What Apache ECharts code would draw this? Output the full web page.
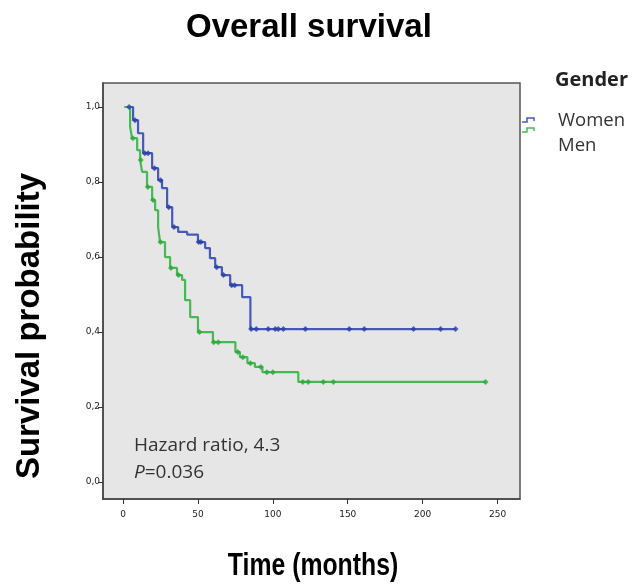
<!DOCTYPE html>
<html>
<head>
<meta charset="utf-8">
<script src="https://cdn.jsdelivr.net/npm/echarts@6/dist/echarts.min.js"></script>
<style>
  html, body { margin: 0; padding: 0; background: #fff; }
  #chart { width: 637px; height: 585px; }
</style>
</head>
<body>
<div id="chart"></div>
<script>
// Kaplan-Meier step values (months, survival)
const womenTime = [1, 6.7, 10, 13.4, 19.4, 23.4, 26, 29.4, 32.8, 36.8, 42.8, 50, 54.8, 58, 61.5, 66, 71.5, 79.5, 85, 222]
const womenSurv = [1.0, 0.965, 0.93, 0.877, 0.837, 0.805, 0.784, 0.733, 0.68, 0.667, 0.66, 0.64, 0.624, 0.597, 0.573, 0.552, 0.525, 0.493, 0.408, 0.408]
const womenCensor = [
  [4, 1.0], [8, 0.965], [14.5, 0.877], [16.7, 0.877], [21, 0.837], [25, 0.805], [30.5, 0.733],
  [34, 0.68], [50.5, 0.64], [52, 0.64], [62.5, 0.573], [67, 0.552], [72.5, 0.525], [74.5, 0.525],
  [85.5, 0.408], [88.9, 0.408], [96.9, 0.408], [101.6, 0.408], [103.6, 0.408], [107, 0.408],
  [121.7, 0.408], [151, 0.408], [161, 0.408], [193.9, 0.408], [212, 0.408], [222, 0.408],
]

const menTime = [1, 4.7, 6, 9.4, 11.4, 12.7, 16, 19.4, 21.4, 23.4, 24.7, 28, 31.4, 36, 39.4, 41.4, 44.8, 50, 60, 75, 78, 83, 88, 93, 117, 242]
const menSurv = [1.0, 0.947, 0.917, 0.885, 0.859, 0.827, 0.787, 0.752, 0.725, 0.68, 0.64, 0.6, 0.571, 0.552, 0.539, 0.485, 0.44, 0.40, 0.373, 0.347, 0.333, 0.317, 0.307, 0.293, 0.267, 0.267]
const menCensor = [
  [6.5, 0.917], [11.8, 0.859], [16.5, 0.787], [20, 0.752], [25, 0.64], [32, 0.571], [37, 0.552],
  [51, 0.40], [60.5, 0.373], [63.5, 0.373], [76.5, 0.347], [80, 0.333], [85, 0.317], [92, 0.307],
  [96, 0.293], [100, 0.293], [120, 0.267], [123.6, 0.267], [133.7, 0.267], [140.4, 0.267], [242, 0.267],
]

const xTicks = [0, 50, 100, 150, 200, 250]
const yTicks = [0, 0.2, 0.4, 0.6, 0.8, 1.0]

const blue = '#4759b8'
const green = '#47b954'

function pairs(t, s) {
  return t.map((v, i) => [v, s[i]])
}

const chart = echarts.init(document.getElementById('chart'))

const option = {
  backgroundColor: '#fff',
  animation: false,
  title: {
    text: 'Overall survival',
    left: 181,
    top: 6,
    textStyle: { fontFamily: 'Liberation Sans', fontWeight: 'bold', fontSize: 33, color: '#000' },
  },
  grid: {
    left: 103,
    right: 117,
    top: 83,
    bottom: 86,
    show: true,
    backgroundColor: '#e6e6e6',
    borderColor: '#555',
    borderWidth: 1.5,
  },
  xAxis: {
    type: 'value',
    min: -13.4,
    max: 265,
    splitLine: { show: false },
    axisLine: { show: true, onZero: false, lineStyle: { color: '#444', width: 1.5 } },
    axisTick: { show: true, length: 5, customValues: xTicks, lineStyle: { color: '#333' } },
    axisLabel: { customValues: xTicks, fontSize: 9, color: '#222', margin: 11, fontFamily: 'DejaVu Sans' },
  },
  yAxis: {
    type: 'value',
    min: -0.045,
    max: 1.064,
    name: 'Survival probability',
    nameLocation: 'middle',
    nameRotate: 90,
    nameGap: 57,
    nameTextStyle: {
      fontFamily: 'Liberation Sans', fontWeight: 'bold', fontSize: 33, color: '#000',
      padding: [0, 70, 0, 0],
    },
    splitLine: { show: false },
    axisLine: { show: true, onZero: false, lineStyle: { color: '#444', width: 1.5 } },
    axisTick: { show: true, length: 5, customValues: yTicks, lineStyle: { color: '#333' } },
    axisLabel: {
      customValues: yTicks,
      fontSize: 9,
      color: '#222',
      margin: 3,
      fontFamily: 'DejaVu Sans',
      formatter: v => v.toFixed(1).replace('.', ','),
    },
  },
  series: [
    {
      name: 'Women',
      type: 'line',
      step: 'end',
      showSymbol: false,
      lineStyle: { color: blue, width: 2.2 },
      data: pairs(womenTime, womenSurv),
      z: 3,
    },
    {
      name: 'Men',
      type: 'line',
      step: 'end',
      showSymbol: false,
      lineStyle: { color: green, width: 2.2 },
      data: pairs(menTime, menSurv),
      z: 3,
    },
    {
      name: 'Women censored',
      type: 'scatter',
      symbol: 'diamond',
      symbolSize: 6,
      itemStyle: { color: '#2a3fa6' },
      data: womenCensor,
      z: 4,
    },
    {
      name: 'Men censored',
      type: 'scatter',
      symbol: 'diamond',
      symbolSize: 6,
      itemStyle: { color: '#2aa83a' },
      data: menCensor,
      z: 4,
    },
  ],
  graphic: [
    {
      // x axis title, a little condensed as in the original
      type: 'text',
      x: 313,
      y: 566,
      scaleX: 0.8,
      style: {
        text: 'Time (months)',
        font: 'bold 31px "Liberation Sans"',
        fill: '#000',
        align: 'center',
        verticalAlign: 'middle',
      },
    },
    {
      type: 'text',
      left: 134,
      top: 436,
      style: {
        text: 'Hazard ratio, 4.3',
        font: '19px "Open Sans"',
        fill: '#333',
      },
    },
    {
      type: 'text',
      left: 134,
      top: 463,
      style: {
        text: '{i|P}=0.036',
        font: '19px "Open Sans"',
        fill: '#333',
        rich: { i: { fontStyle: 'italic', fontFamily: 'Open Sans', fontSize: 19, fill: '#333' } },
      },
    },
    {
      type: 'text',
      left: 555,
      top: 70,
      style: { text: 'Gender', font: 'bold 20px "Open Sans"', fill: '#222' },
    },
    {
      type: 'text',
      left: 558,
      top: 111,
      style: { text: 'Women', font: '18.5px "Open Sans"', fill: '#333' },
    },
    {
      type: 'text',
      left: 558,
      top: 136,
      style: { text: 'Men', font: '18.5px "Open Sans"', fill: '#333' },
    },
    {
      type: 'polyline',
      shape: { points: [[522, 122], [527, 122], [527, 118], [534, 118], [534, 121]] },
      style: { stroke: blue, lineWidth: 1.5, fill: null },
    },
    {
      type: 'polyline',
      shape: { points: [[522, 132], [527, 132], [527, 128], [534, 128], [534, 131]] },
      style: { stroke: green, lineWidth: 1.5, fill: null },
    },
  ],
}

chart.setOption(option)
</script>
</body>
</html>
